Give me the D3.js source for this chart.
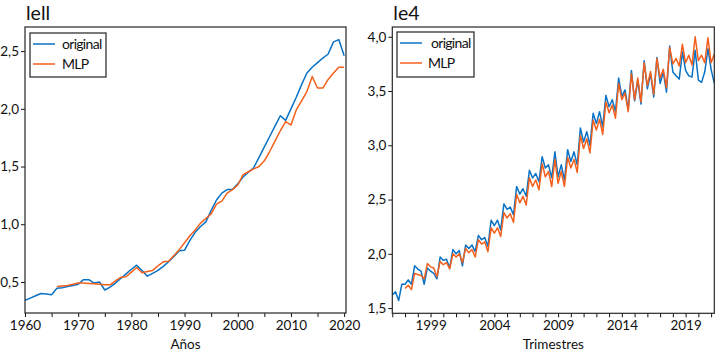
<!DOCTYPE html>
<html><head><meta charset="utf-8">
<script src="https://cdn.jsdelivr.net/npm/d3@7"></script>
<style>
body{margin:0;background:#fff}
svg{display:block}
text{font-family:Lato,'Liberation Sans Narrow','DejaVu Sans Condensed',sans-serif;fill:#111}
</style>
</head><body>
<svg id="c" width="720" height="361"></svg>
<script>
// ---------- data: left panel (annual) ----------
const lellYears = d3.range(1960, 2021);
const lellOriginal = [0.34,0.36,0.38,0.40,0.395,0.39,0.445,0.45,0.46,0.47,
  0.48,0.52,0.52,0.49,0.50,0.43,0.455,0.49,0.53,0.57,
  0.61,0.645,0.60,0.55,0.575,0.60,0.635,0.675,0.72,0.77,
  0.775,0.86,0.93,0.98,1.02,1.12,1.21,1.27,1.30,1.30,
  1.35,1.41,1.45,1.49,1.58,1.67,1.76,1.85,1.94,1.90,
  2.00,2.10,2.21,2.31,2.36,2.40,2.44,2.475,2.58,2.60,2.46];
const lellMLPStart = 1966;
const lellMLP = [0.46,0.465,0.47,0.48,0.49,0.49,0.487,0.485,0.48,0.475,
  0.475,0.51,0.54,0.545,0.585,0.625,0.58,0.59,0.60,0.64,
  0.675,0.68,0.73,0.78,0.84,0.90,0.95,1.01,1.05,1.09,
  1.175,1.20,1.27,1.30,1.34,1.43,1.455,1.48,1.50,1.55,
  1.63,1.72,1.81,1.89,1.86,1.99,2.07,2.15,2.28,2.18,
  2.18,2.255,2.31,2.36,2.36];
const lellXTicks = [1960,1965,1970,1975,1980,1985,1990,1995,2000,2005,2010,2015,2020];
const lellXLabels = [1960,1970,1980,1990,2000,2010,2020];
const lellYTicks = [0.5,1.0,1.5,2.0,2.5];

// ---------- data: right panel (quarterly, from 1996 Q1) ----------
const le4StartYear = 1996;
const le4Original = [1.62,1.65,1.57,1.72, 1.72,1.76,1.72,1.89, 1.86,1.84,1.72,1.87,
  1.84,1.82,1.77,1.97, 1.94,1.95,1.87,2.04, 2.00,2.03,1.89,2.08, 2.05,2.08,2.02,2.17,
  2.13,2.15,2.07,2.31, 2.26,2.31,2.22,2.46, 2.41,2.43,2.36,2.62, 2.55,2.60,2.53,2.77,
  2.70,2.74,2.665,2.895, 2.79,2.82,2.70,2.94, 2.71,2.82,2.68,2.96, 2.85,2.94,2.82,3.16,
  3.03,3.125,3.00,3.295, 3.20,3.31,3.17,3.46, 3.355,3.42,3.31,3.62, 3.45,3.51,3.325,3.69,
  3.41,3.60,3.38,3.78, 3.52,3.66,3.445,3.81, 3.57,3.675,3.49,3.915, 3.675,3.64,3.61,3.86,
  3.69,3.64,3.63,3.875, 3.60,3.58,3.675,3.89, 3.70,3.57];
const le4MLPStartIndex = 4;
const le4MLP = [1.68,1.71,1.67,1.82, 1.81,1.80,1.77,1.91,
  1.88,1.87,1.79,1.93, 1.90,1.92,1.86,2.00, 1.97,2.00,1.92,2.05, 2.01,2.04,1.97,2.13,
  2.09,2.11,2.02,2.24, 2.19,2.24,2.16,2.38, 2.33,2.37,2.29,2.55, 2.47,2.53,2.45,2.70,
  2.62,2.68,2.59,2.83, 2.71,2.76,2.62,2.87, 2.65,2.76,2.62,2.89, 2.79,2.87,2.75,3.09,
  2.97,3.06,2.93,3.23, 3.14,3.24,3.10,3.40, 3.30,3.37,3.25,3.57, 3.42,3.48,3.31,3.66,
  3.42,3.62,3.40,3.76, 3.55,3.68,3.47,3.80, 3.62,3.70,3.53,3.90, 3.75,3.80,3.73,3.93,
  3.76,3.83,3.74,4.00, 3.78,3.83,3.76,3.99, 3.76,3.84];
const le4XLabels = [1999,2004,2009,2014,2019];
const le4YTicks = [1.5,2.0,2.5,3.0,3.5,4.0];

const seriesNames = ['original','MLP'];
const colors = ['#0a72c4','#f4601c'];

const svg = d3.select('#c');
svg.append('rect').attr('width',720).attr('height',361).attr('fill','#fff');
const fmt = d => d3.format('.1f')(d).replace('.', ',');

function panel(o){
  const g = svg.append('g');
  const x = d3.scaleLinear().domain(o.xDomain).range([o.left,o.right]);
  const y = d3.scaleLinear().domain(o.yDomain).range([o.bottom,o.top]);
  g.append('text').attr('x',o.left+1).attr('y',o.top-7).attr('font-size',19.5).text(o.title);
  const clip = 'clip'+o.id;
  g.append('clipPath').attr('id',clip).append('rect')
    .attr('x',o.left).attr('y',o.top).attr('width',o.right-o.left).attr('height',o.bottom-o.top);
  const line = d3.line().x(d=>x(d[0])).y(d=>y(d[1]));
  o.series.forEach((s,i)=>{
    g.append('path').attr('d',line(s)).attr('fill','none')
      .attr('stroke',colors[i]).attr('stroke-width',1.5).attr('stroke-linejoin','round')
      .attr('clip-path','url(#'+clip+')');
  });
  const xa = d3.axisBottom(x).tickValues(o.xTicks).tickFormat(o.xFormat).tickSize(4).tickPadding(3);
  const xg = g.append('g').attr('transform',`translate(0,${o.bottom})`).call(xa);
  xg.select('.domain').remove();
  xg.selectAll('text').attr('font-size',13.5).attr('fill','#111');
  xg.selectAll('line').attr('stroke','#111');
  const ya = d3.axisLeft(y).tickValues(o.yTicks).tickFormat(fmt).tickSize(4).tickPadding(2);
  const yg = g.append('g').attr('transform',`translate(${o.left},0)`).call(ya);
  yg.select('.domain').remove();
  yg.selectAll('text').attr('font-size',13.5).attr('fill','#111');
  yg.selectAll('line').attr('stroke','#111');
  g.append('rect').attr('x',o.left).attr('y',o.top).attr('width',o.right-o.left).attr('height',o.bottom-o.top)
    .attr('fill','none').attr('stroke','#262626').attr('stroke-width',1.2);
  g.append('text').attr('x',(o.left+o.right)/2).attr('y',349).attr('text-anchor','middle')
    .attr('font-size',13.5).text(o.xLabel);
  const L = o.legend;
  g.append('rect').attr('x',L.x).attr('y',L.y).attr('width',L.w).attr('height',L.h)
    .attr('fill','#fff').attr('stroke','#333').attr('stroke-width',1.3);
  seriesNames.forEach((n,i)=>{
    const yy = L.y + 11 + i*20;
    g.append('line').attr('x1',L.x+3).attr('x2',L.x+25).attr('y1',yy).attr('y2',yy)
      .attr('stroke',colors[i]).attr('stroke-width',1.5);
    g.append('text').attr('x',L.x+L.tx[i]).attr('y',yy+5).attr('font-size',14)
      .attr('letter-spacing',-0.7).text(n);
  });
}

panel({
  id:'a', title:'lell', left:25, right:346, top:27, bottom:313,
  xDomain:[1960,2020.35], yDomain:[0.231,2.709],
  xTicks:lellXTicks, xFormat:d=>lellXLabels.includes(d)?String(d):'',
  yTicks:lellYTicks, xLabel:'Años',
  series:[lellYears.map((yr,i)=>[yr,lellOriginal[i]]),
          lellMLP.map((v,i)=>[lellMLPStart+i,v])],
  legend:{x:30,y:33,w:76,h:44,tx:[32,32]}
});

const le4Ticks = d3.range(0,101,4);
panel({
  id:'b', title:'le4', left:392.3, right:714.3, top:27, bottom:313.3,
  xDomain:[0,101], yDomain:[1.452,4.09],
  xTicks:le4Ticks, xFormat:d=>{const yr=le4StartYear+d/4; return le4XLabels.includes(yr)?String(yr):'';},
  yTicks:le4YTicks, xLabel:'Trimestres',
  series:[le4Original.map((v,i)=>[i,v]),
          le4MLP.map((v,i)=>[le4MLPStartIndex+i,v])],
  legend:{x:397,y:32,w:77,h:45,tx:[34,31]}
});
</script>
</body></html>
